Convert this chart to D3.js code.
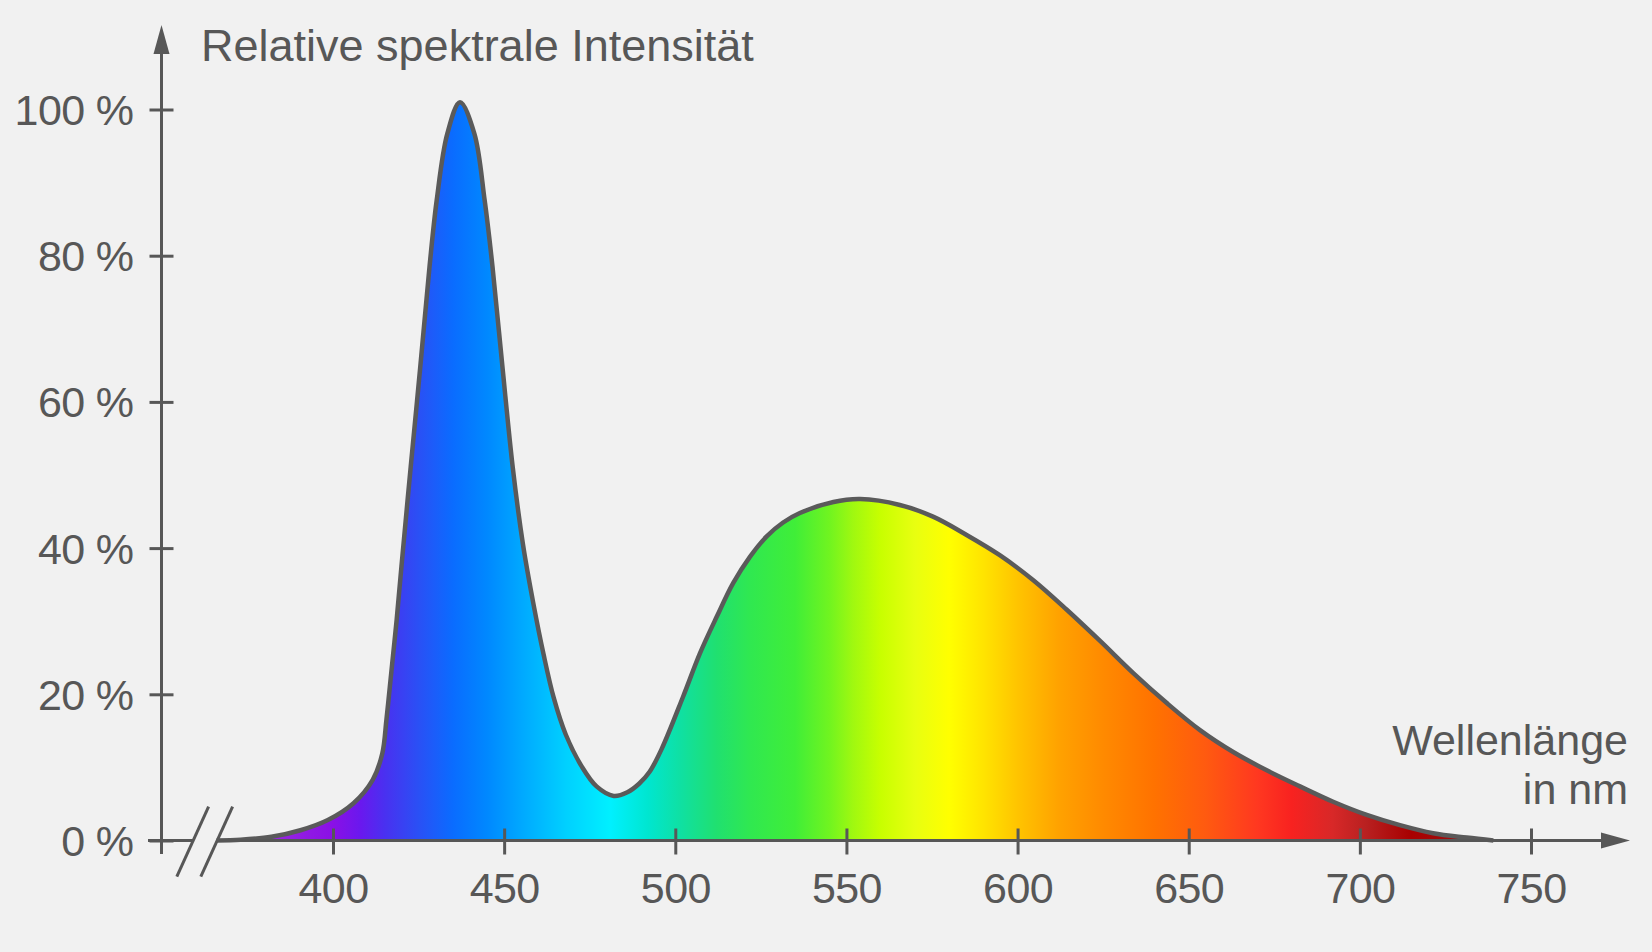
<!DOCTYPE html>
<html>
<head>
<meta charset="utf-8">
<script src="https://cdn.jsdelivr.net/npm/d3@7"></script>
<style>
  html, body { margin: 0; padding: 0; background: #f1f1f1; }
  svg { display: block; font-family: "Liberation Sans", Arial, sans-serif; }
</style>
</head>
<body>
<div id="wrapper"></div>
<script>
// spectrum readings (wavelength in nm, relative intensity in %)
const wavelengths = [366, 373, 382, 390.5, 398.5, 406, 411.6, 414.4, 415.6, 416.6, 417.6, 418.6, 420, 422.7, 425.5, 428.2,
  430.3, 433.4, 437.1, 441.3, 444.3, 446.6, 449.5, 452.5, 455.5, 458.5, 461.5, 464.5, 468, 472.7, 477, 482, 486, 489.5,
  492.5, 496, 502.3, 507.2, 512.1, 516.9, 521.8, 526.7, 531.5, 536.4, 546.2, 554, 565.6, 575.3, 585.1, 594.9, 604.6,
  614.3, 624.1, 633.8, 643.6, 653.3, 663, 672.8, 682.5, 692.2, 702, 711.7, 721.4, 731.2, 739]
const intensity = [0, 0.1, 0.5, 1.4, 2.8, 5.1, 8.3, 11.9, 16.5, 21, 25.6, 30.2, 37.5, 51.1, 64.8, 78.5,
  87.6, 96.7, 101, 96.7, 87.6, 78.5, 64.8, 51.1, 40.5, 32.5, 25.5, 19.5, 14.5, 10.1, 7.4, 6.1, 6.6, 7.8,
  9.4, 12.5, 19.7, 25.6, 30.6, 35.2, 38.8, 41.6, 43.5, 44.8, 46.3, 46.7, 45.9, 44.3, 41.8, 39, 35.6,
  31.6, 27.3, 22.9, 18.8, 15.1, 12.1, 9.6, 7.4, 5.3, 3.5, 2.1, 1, 0.4, 0]

const xTicks = [400, 450, 500, 550, 600, 650, 700, 750]
const yTicks = [0, 20, 40, 60, 80, 100]

// colour of the light along the wavelength axis
const spectrumNm = [380, 400, 408, 415, 425, 435, 445, 455, 468, 481, 492, 502, 512, 522, 535, 545, 552, 560, 570, 580,
  590, 600, 612, 625, 640, 655, 670, 680, 692, 702, 715, 730, 740]
const spectrumColors = ["#9a28e0", "#8a10e6", "#6a18ee", "#4a30f0", "#2a50f5", "#0a6cff", "#0088ff", "#00a8ff", "#00d0ff",
  "#00f0ff", "#00e6d0", "#10e0a0", "#20e070", "#30e850", "#40ee38", "#70f420", "#a0f810", "#c8ff00", "#e8ff10", "#ffff00",
  "#ffe400", "#ffc400", "#ffa200", "#ff8a00", "#ff7200", "#ff5a10", "#ff3820", "#f82220", "#d82828", "#b82020", "#a80000",
  "#a01010", "#906060"]

function drawChart() {

// 1. Data
  const dataset = wavelengths.map((w, i) => ({ nm: w, value: intensity[i] }))
  const xAccessor = d => d.nm
  const yAccessor = d => d.value

// 2. Dimensions
  const dimensions = {
    width: 1652,
    height: 952,
  }
  const axisX = 161.5
  const baseY = 840.5
  const ink = "#575757"

// 3. Canvas
  const wrapper = d3.select("#wrapper")
    .append("svg")
      .attr("width", dimensions.width)
      .attr("height", dimensions.height)

  wrapper.append("rect")
      .attr("width", dimensions.width)
      .attr("height", dimensions.height)
      .attr("fill", "#f1f1f1")

// 4. Scales
  const xScale = d3.scaleLinear()
    .domain([400, 750])
    .range([333, 1531])

  const yScale = d3.scaleLinear()
    .domain([0, 100])
    .range([baseY, 109.5])

// 5. Data
  const defs = wrapper.append("defs")
  const first = spectrumNm[0], last = spectrumNm[spectrumNm.length - 1]
  const gradient = defs.append("linearGradient")
      .attr("id", "spectrum")
      .attr("gradientUnits", "userSpaceOnUse")
      .attr("x1", xScale(first)).attr("x2", xScale(last))
      .attr("y1", 0).attr("y2", 0)
  gradient.selectAll("stop")
    .data(spectrumNm)
    .join("stop")
      .attr("offset", d => (d - first) / (last - first))
      .attr("stop-color", (d, i) => spectrumColors[i])

  const curve = d3.curveCatmullRom.alpha(0.5)

  const areaGenerator = d3.area()
    .x(d => xScale(xAccessor(d)))
    .y0(yScale(0))
    .y1(d => yScale(yAccessor(d)))
    .curve(curve)

  wrapper.append("path")
      .attr("d", areaGenerator(dataset))
      .attr("fill", "url(#spectrum)")

  const lineGenerator = d3.line()
    .x(d => xScale(xAccessor(d)))
    .y(d => yScale(yAccessor(d)))
    .curve(curve)

  wrapper.append("path")
      .attr("d", lineGenerator(dataset))
      .attr("fill", "none")
      .attr("stroke", "#5a5a5a")
      .attr("stroke-width", 4.5)
      .attr("stroke-linejoin", "round")

// 6. Peripherals
  // y axis with arrow
  const yAxisGenerator = d3.axisLeft()
    .scale(yScale)
    .tickValues(yTicks)
    .tickSize(12)
    .tickPadding(16)
    .tickFormat(d => d + " %")

  const yAxis = wrapper.append("g")
      .attr("transform", `translate(${axisX},0)`)
      .call(yAxisGenerator)
  yAxis.select(".domain").remove()
  yAxis.selectAll(".tick line")
      .attr("x1", 12)
      .attr("stroke", ink)
      .attr("stroke-width", 3)
  yAxis.selectAll(".tick text")
      .attr("dy", "0.35em")
      .attr("fill", ink)
      .style("font-size", "43px")
      .style("letter-spacing", "-0.6px")
      .style("font-family", "'Liberation Sans', Arial, sans-serif")

  wrapper.append("line")
      .attr("x1", axisX).attr("x2", axisX)
      .attr("y1", 854).attr("y2", 50)
      .attr("stroke", ink)
      .attr("stroke-width", 3)
  wrapper.append("path")
      .attr("d", `M${axisX},25 L${axisX - 8},54 L${axisX + 8},54 Z`)
      .attr("fill", ink)

  // x axis with break and arrow
  const xAxisGenerator = d3.axisBottom()
    .scale(xScale)
    .tickValues(xTicks)
    .tickSize(14)

  const xAxis = wrapper.append("g")
      .attr("transform", `translate(0,${baseY})`)
      .call(xAxisGenerator)
  xAxis.select(".domain").remove()
  xAxis.selectAll(".tick line")
      .attr("y1", -12)
      .attr("stroke", ink)
      .attr("stroke-width", 3)
  xAxis.selectAll(".tick text")
      .attr("y", 62)
      .attr("dy", 0)
      .attr("fill", ink)
      .style("font-size", "43px")
      .style("letter-spacing", "-0.6px")
      .style("font-family", "'Liberation Sans', Arial, sans-serif")

  wrapper.append("line")
      .attr("x1", 148).attr("x2", 193)
      .attr("y1", baseY).attr("y2", baseY)
      .attr("stroke", ink)
      .attr("stroke-width", 3)
  wrapper.append("line")
      .attr("x1", 217).attr("x2", 1605)
      .attr("y1", baseY).attr("y2", baseY)
      .attr("stroke", ink)
      .attr("stroke-width", 3)
  wrapper.append("path")
      .attr("d", `M1630,${baseY} L1601,${baseY - 8} L1601,${baseY + 8} Z`)
      .attr("fill", ink)

  wrapper.selectAll(".break")
    .data([0, 24])
    .join("line")
      .attr("class", "break")
      .attr("x1", d => 208.6 + d).attr("y1", 806.7)
      .attr("x2", d => 176.8 + d).attr("y2", 876.7)
      .attr("stroke", ink)
      .attr("stroke-width", 3)

  // labels
  wrapper.append("text")
      .attr("x", 201)
      .attr("y", 61)
      .attr("fill", ink)
      .style("font-size", "45px")
      .text("Relative spektrale Intensität")

  wrapper.append("text")
      .attr("x", 1628)
      .attr("y", 755)
      .attr("text-anchor", "end")
      .attr("fill", ink)
      .style("font-size", "43px")
      .text("Wellenlänge")

  wrapper.append("text")
      .attr("x", 1628)
      .attr("y", 804)
      .attr("text-anchor", "end")
      .attr("fill", ink)
      .style("font-size", "43px")
      .text("in nm")
}

drawChart()
</script>
</body>
</html>
